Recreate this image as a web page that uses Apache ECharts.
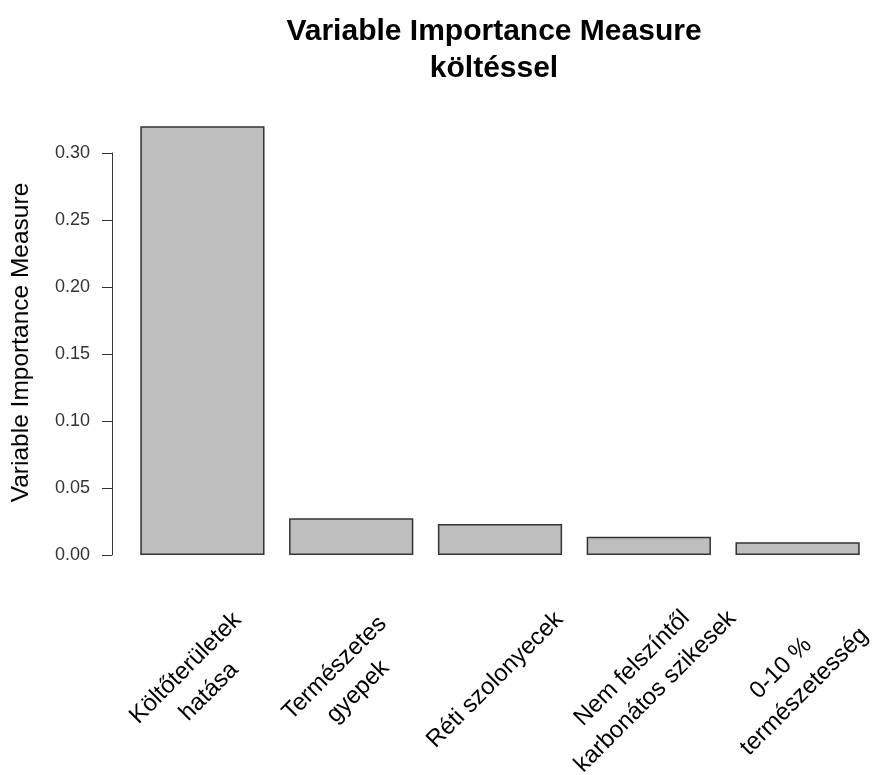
<!DOCTYPE html>
<html>
<head>
<meta charset="utf-8">
<script src="https://cdn.jsdelivr.net/npm/echarts@6/dist/echarts.min.js"></script>
<style>
  html, body { margin: 0; padding: 0; background: #fff; overflow: hidden; }
  #chart { width: 877px; height: 775px; }
</style>
</head>
<body>
<div id="chart"></div>
<script>
const titleText = 'Variable Importance Measure\nköltéssel';
const yAxisTitle = 'Variable Importance Measure';
const categories = [
  'Költőterületek\nhatása',
  'Természetes\ngyepek',
  'Réti szolonyecek',
  'Nem felszíntől\nkarbonátos szikesek',
  '0-10 %\ntermészetesség'
];
const values = [0.320, 0.0274, 0.0231, 0.0136, 0.0095];
const yMin = 0, yMax = 0.30, yStep = 0.05;

const chart = echarts.init(document.getElementById('chart'), null, { renderer: 'canvas', width: 877, height: 775 });
chart.setOption({
  backgroundColor: '#ffffff',
  animation: false,
  title: {
    text: titleText,
    left: 494,
    top: 13,
    padding: 0,
    textAlign: 'center',
    textStyle: {
      fontFamily: 'Liberation Sans, Arial, sans-serif',
      fontWeight: 'bold',
      fontSize: 30,
      lineHeight: 37,
      color: '#000'
    }
  },
  grid: { left: 128, right: 5, top: 153, bottom: 220, containLabel: false, outerBoundsMode: 'none' },
  xAxis: {
    type: 'category',
    data: categories,
    axisLine: { show: false },
    axisTick: { show: false },
    splitLine: { show: false },
    axisLabel: {
      interval: 0,
      rotate: 45,
      align: 'center',
      verticalAlign: 'middle',
      margin: 120,
      padding: [0, 14, 16, 0],
      fontFamily: 'Liberation Sans, Arial, sans-serif',
      fontSize: 24,
      lineHeight: 33,
      color: '#000'
    }
  },
  yAxis: {
    type: 'value',
    min: yMin,
    max: yMax,
    interval: yStep,
    offset: 16,
    name: yAxisTitle,
    nameLocation: 'middle',
    nameGap: 78,
    nameRotate: 90,
    nameTextStyle: {
      fontFamily: 'Liberation Sans, Arial, sans-serif',
      fontSize: 24.5,
      color: '#000',
      padding: [0, 0, 0, 23]
    },
    axisLine: { show: true, lineStyle: { color: '#333', width: 1 } },
    axisTick: { show: true, length: 10, lineStyle: { color: '#333', width: 1 } },
    splitLine: { show: false },
    axisLabel: {
      margin: 22,
      fontFamily: 'Liberation Sans, Arial, sans-serif',
      fontSize: 18,
      color: '#333',
      formatter: v => v.toFixed(2)
    }
  },
  series: [{
    type: 'bar',
    data: values,
    clip: false,
    barWidth: '83.5%',
    itemStyle: { color: '#bebebe', borderColor: '#333', borderWidth: 1.5 },
    emphasis: { disabled: true }
  }]
});
</script>
</body>
</html>
